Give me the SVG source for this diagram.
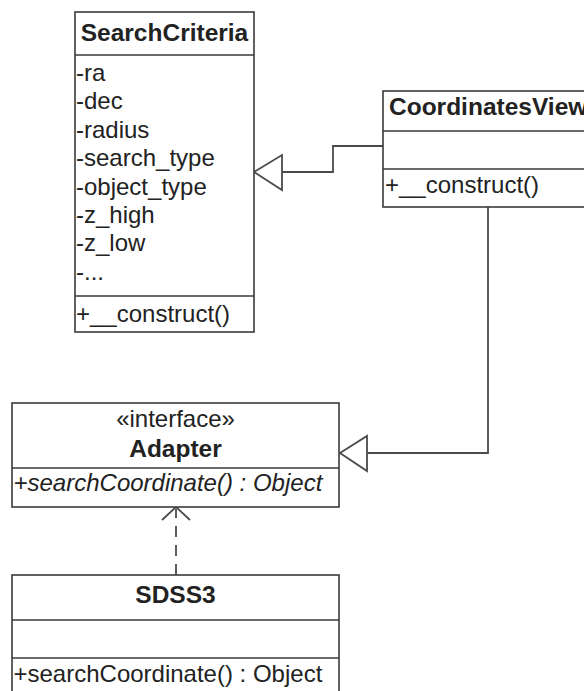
<svg xmlns="http://www.w3.org/2000/svg" width="584" height="691" viewBox="0 0 584 691">
<style>
.box{fill:#fff;stroke:#3a3a3a;stroke-width:1.6}
.div{stroke:#3a3a3a;stroke-width:1.6;fill:none}
.t{font-family:"Liberation Sans",Arial,sans-serif;font-size:24px;fill:#222}
.b{font-weight:bold;font-size:24.5px}
.i{font-style:italic}
.m{text-anchor:middle}
.con{fill:none;stroke:#4a4a4a;stroke-width:1.8}
.head{fill:#fff;stroke:#4a4a4a;stroke-width:1.8}
</style>
<rect width="584" height="691" fill="#fff"/>
<g id="connectors">
  <polyline class="con" points="383,146 333,146 333,172 282,172"/>
  <polygon class="head" points="254,172 282,155 282,190"/>
  <polyline class="con" points="488,207 488,453 367,453"/>
  <polygon class="head" points="340,453 367,436 367,471"/>
  <line class="con" x1="176" y1="575" x2="176" y2="509" stroke-dasharray="11 8"/>
  <polyline class="con" points="162,520 176,507 190,520"/>
</g>
<g id="SearchCriteria">
  <rect class="box" x="75" y="12" width="179" height="320"/>
  <line class="div" x1="75" y1="55" x2="254" y2="55"/>
  <line class="div" x1="75" y1="296" x2="254" y2="296"/>
  <text class="t b m" x="164.5" y="41">SearchCriteria</text>
  <text class="t" x="76" y="81">-ra</text>
  <text class="t" x="76" y="109.4">-dec</text>
  <text class="t" x="76" y="137.8">-radius</text>
  <text class="t" x="76" y="166.2">-search_type</text>
  <text class="t" x="76" y="194.6">-object_type</text>
  <text class="t" x="76" y="223">-z_high</text>
  <text class="t" x="76" y="251.4">-z_low</text>
  <text class="t" x="76" y="279.8">-...</text>
  <text class="t" x="76" y="322">+__construct()</text>
</g>
<g id="CoordinatesView">
  <rect class="box" x="383" y="91" width="220" height="116"/>
  <line class="div" x1="383" y1="131" x2="603" y2="131"/>
  <line class="div" x1="383" y1="169" x2="603" y2="169"/>
  <text class="t b" x="389" y="115">CoordinatesView</text>
  <text class="t" x="385" y="193">+__construct()</text>
</g>
<g id="Adapter">
  <rect class="box" x="12" y="403" width="327" height="104"/>
  <line class="div" x1="12" y1="468" x2="339" y2="468"/>
  <text class="t m" x="175.5" y="427">«interface»</text>
  <text class="t b m" x="175.5" y="457">Adapter</text>
  <text class="t i" x="13.5" y="491">+searchCoordinate() : Object</text>
</g>
<g id="SDSS3">
  <rect class="box" x="12" y="575" width="327" height="130"/>
  <line class="div" x1="12" y1="620" x2="339" y2="620"/>
  <line class="div" x1="12" y1="658" x2="339" y2="658"/>
  <text class="t b m" x="175.5" y="603">SDSS3</text>
  <text class="t" x="13.5" y="682">+searchCoordinate() : Object</text>
</g>
</svg>
